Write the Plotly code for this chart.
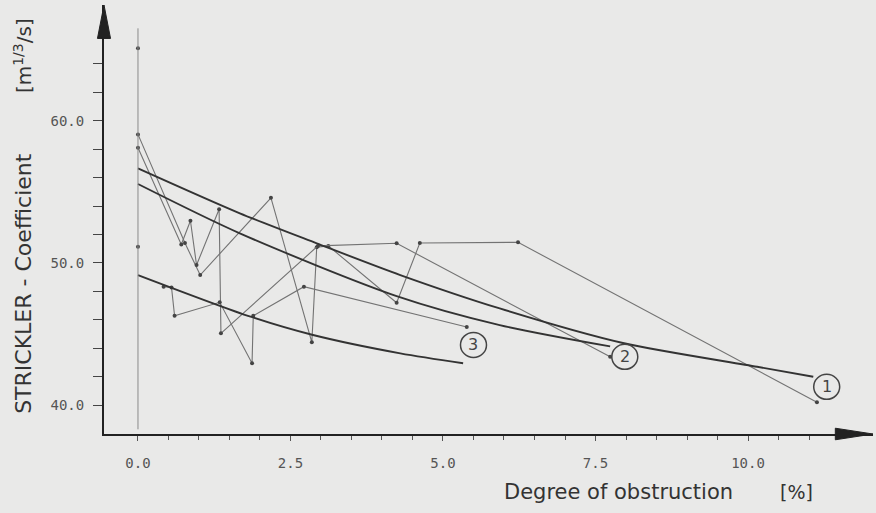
import plotly.graph_objects as go

# ---- data ----
# fitted curves
c1_x = [0.0, 1.67, 2.93, 4.3, 5.93, 7.95, 10.15, 11.07]
c1_y = [56.65, 53.49, 51.38, 49.15, 46.8, 44.37, 42.7, 42.0]
c2_x = [0.0, 1.67, 4.24, 5.93, 7.74]
c2_y = [55.55, 52.08, 47.67, 45.63, 44.13]
c3_x = [0.0, 1.86, 2.87, 4.3, 5.33]
c3_y = [49.15, 46.2, 44.93, 43.64, 42.95]

# measured series
s1_x = [0.0, 0.77, 1.02, 2.18, 2.85, 2.93, 3.12, 4.24, 4.62, 6.23, 11.13]
s1_y = [59.04, 51.4, 49.15, 54.58, 44.42, 51.1, 51.2, 47.2, 51.4, 51.45, 40.2]
s2_x = [0.0, 0.71, 0.86, 0.96, 1.33, 1.36, 2.95, 4.24, 7.74]
s2_y = [58.1, 51.3, 52.97, 49.85, 53.77, 45.05, 51.2, 51.38, 43.4]
s3_x = [0.42, 0.55, 0.6, 1.34, 1.87, 1.89, 2.72, 5.39]
s3_y = [48.33, 48.28, 46.29, 47.23, 42.94, 46.29, 48.33, 45.5]
extra_x = [0.0, 0.0]
extra_y = [65.1, 51.14]

labels = ["1", "2", "3"]
label_x = [11.29, 7.98, 5.50]
label_y = [41.29, 43.4, 44.23]

x_ticks = [0, 2.5, 5, 7.5, 10]
x_ticktext = ["0.0", "2.5", "5.0", "7.5", "10.0"]
x_minor = [v * 0.5 for v in range(0, 23) if (v * 0.5) not in x_ticks]
y_ticks = [40, 50, 60]
y_ticktext = ["40.0", "50.0", "60.0"]
y_minor = [42, 44, 46, 48, 52, 54, 56, 58, 62, 64]

BG = "#e9e9e8"
DARK = "#333333"
THIN = "#737373"
TXT = "#333333"

fig = go.Figure()

for sx, sy in [(s1_x, s1_y), (s2_x, s2_y), (s3_x, s3_y)]:
    fig.add_trace(go.Scatter(x=sx, y=sy, mode="lines+markers",
                             line=dict(color=THIN, width=1.1),
                             marker=dict(size=4, color="#444"),
                             showlegend=False, hoverinfo="skip"))
fig.add_trace(go.Scatter(x=extra_x, y=extra_y, mode="markers",
                         marker=dict(size=4, color="#444"),
                         showlegend=False, hoverinfo="skip"))
for cx, cy in [(c1_x, c1_y), (c2_x, c2_y), (c3_x, c3_y)]:
    fig.add_trace(go.Scatter(x=cx, y=cy, mode="lines",
                             line=dict(color=DARK, width=1.9, shape="spline", smoothing=0.8),
                             showlegend=False, hoverinfo="skip"))

shapes = [
    dict(type="line", xref="x", yref="y", x0=0, x1=0, y0=38.3, y1=66.5,
         line=dict(color="#8a8a8a", width=1)),
    # arrow heads
    dict(type="path", xref="paper", yref="paper",
         path="M -0.0085,0.922 L 0,1.0 L 0.0085,0.922 Z",
         fillcolor="#222", line=dict(color="#222", width=1)),
    dict(type="path", xref="paper", yref="paper",
         path="M 0.951,0.0135 L 1.0,0 L 0.951,-0.0135 Z",
         fillcolor="#222", line=dict(color="#222", width=1)),
]
annotations = []
for t, lx, ly in zip(labels, label_x, label_y):
    shapes.append(dict(type="circle", xref="x", yref="y",
                       xsizemode="pixel", ysizemode="pixel",
                       xanchor=lx, yanchor=ly, x0=-13, x1=13, y0=-12.5, y1=12.5,
                       line=dict(color="#444", width=1.5)))
    annotations.append(dict(x=lx, y=ly, xref="x", yref="y", text=t, showarrow=False,
                            font=dict(family="DejaVu Sans", size=16, color="#444"),
                            xanchor="center", yanchor="middle"))

annotations += [
    dict(x=-0.104, y=0.35, xref="paper", yref="paper", text="STRICKLER - Coefficient",
         textangle=-90, showarrow=False, xanchor="center", yanchor="middle",
         font=dict(family="DejaVu Sans", size=22, color=TXT)),
    dict(x=-0.106, y=0.882, xref="paper", yref="paper", text="[m<sup>1/3</sup>/s]",
         textangle=-90, showarrow=False, xanchor="center", yanchor="middle",
         font=dict(family="DejaVu Sans", size=20, color=TXT)),
    dict(x=0.517, y=-0.136, xref="paper", yref="paper", text="Degree of obstruction",
         showarrow=False, xanchor="left", yanchor="middle",
         font=dict(family="DejaVu Sans", size=21, color=TXT)),
    dict(x=0.9, y=-0.136, xref="paper", yref="paper", text="[%]",
         showarrow=False, xanchor="center", yanchor="middle",
         font=dict(family="DejaVu Sans", size=19, color=TXT)),
]

fig.update_layout(
    width=876, height=513,
    margin=dict(l=104, r=3, t=5, b=79),
    paper_bgcolor=BG, plot_bgcolor=BG,
    shapes=shapes, annotations=annotations,
    xaxis=dict(range=[-0.557, 12.049], showgrid=False, zeroline=False,
               showline=True, linecolor="#222", linewidth=2,
               ticks="outside", ticklen=5, tickcolor="#555", tickwidth=1,
               tickvals=x_ticks, ticktext=x_ticktext, ticklabelstandoff=10,
               tickfont=dict(family="DejaVu Sans Mono", size=14, color="#555"),
               minor=dict(tickvals=x_minor, ticks="outside", ticklen=4,
                          tickcolor="#555", tickwidth=1)),
    yaxis=dict(range=[37.97, 68.14], showgrid=False, zeroline=False,
               showline=True, linecolor="#222", linewidth=2,
               ticks="outside", ticklen=9, tickcolor="#444", tickwidth=1,
               tickvals=y_ticks, ticktext=y_ticktext, ticklabelstandoff=6,
               tickfont=dict(family="DejaVu Sans Mono", size=14, color="#555"),
               minor=dict(tickvals=y_minor, ticks="outside", ticklen=9,
                          tickcolor="#444", tickwidth=1)),
)

fig.write_html("out.html",
               config={"displayModeBar": False},
               post_script="document.body.style.margin='0px';"
                           "document.body.style.background='" + BG + "';")
